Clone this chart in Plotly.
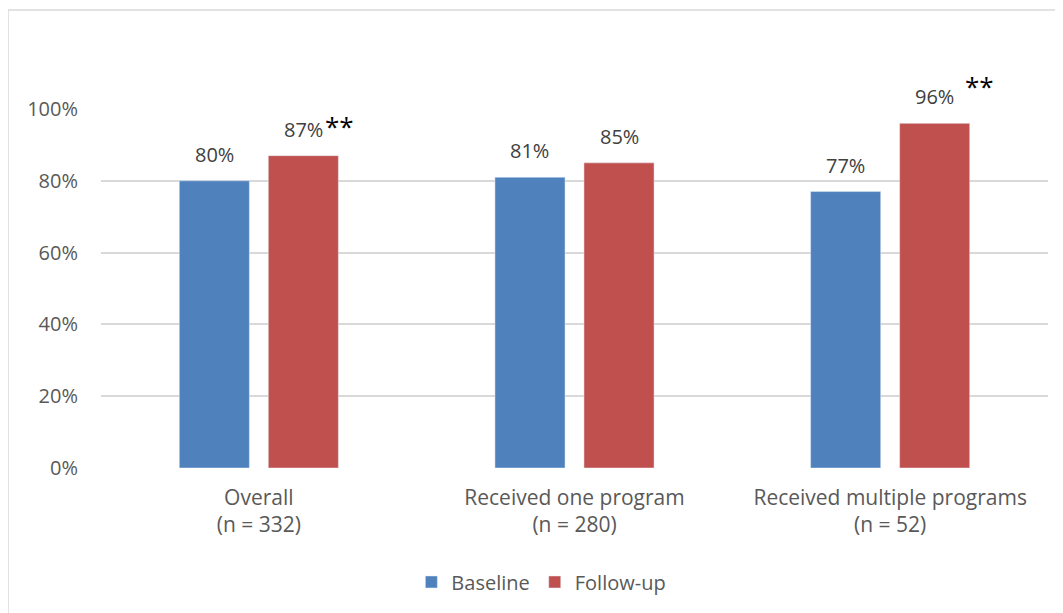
import plotly.graph_objects as go

categories = ["Overall<br>(n = 332)", "Received one program<br>(n = 280)", "Received multiple programs<br>(n = 52)"]
baseline = [0.80, 0.81, 0.77]
followup = [0.87, 0.85, 0.96]
followup_sig = ["**", "", "**"]
y_ticks = [0, 0.2, 0.4, 0.6, 0.8, 1.0]
y_ticktext = ["0%", "20%", "40%", "60%", "80%", "100%"]

BLUE = "#4F81BD"
RED = "#C0504D"
FONT = "Open Sans"
FS = 20
GRID = "#D9D9D9"

# plot area in figure pixels
L, R, T, B = 93, 1040, 101, 460
W, H = 1063, 613
PW, PH = R - L, B - T

xi = list(range(len(categories)))
bar_w = 0.222
half_step = 0.141
sig_xshift = [20, 0, 28]
sig_yshift = [30, 0, 37]

fig = go.Figure()
fig.add_trace(go.Bar(name="Baseline", x=xi, y=baseline, width=bar_w,
                     offset=-half_step - bar_w / 2, marker_color=BLUE))
fig.add_trace(go.Bar(name="Follow-up", x=xi, y=followup, width=bar_w,
                     offset=half_step - bar_w / 2, marker_color=RED))

annotations = []
for i, v in enumerate(baseline):
    annotations.append(dict(x=i - half_step, y=v, xref="x", yref="y", text=f"{v:.0%}",
                            showarrow=False, yanchor="bottom", yshift=11,
                            font=dict(family=FONT, size=FS, color="#404040")))
for i, v in enumerate(followup):
    annotations.append(dict(x=i + half_step, y=v, xref="x", yref="y", text=f"{v:.0%}",
                            showarrow=False, yanchor="bottom", yshift=11,
                            font=dict(family=FONT, size=FS, color="#404040")))
    if followup_sig[i]:
        annotations.append(dict(x=i + half_step, y=v, xref="x", yref="y", text=followup_sig[i],
                                showarrow=False, xanchor="left", yanchor="middle",
                                xshift=sig_xshift[i], yshift=sig_yshift[i],
                                font=dict(family=FONT, size=26, color="#000000")))

bx = (0 - L) / PW
by = (B - 2) / PH
fig.update_layout(
    width=W, height=H,
    margin=dict(l=L, r=W - R, t=T, b=H - B),
    paper_bgcolor="white", plot_bgcolor="white",
    barmode="overlay",
    showlegend=True,
    legend=dict(orientation="h", x=0.465, xanchor="center", y=-0.3175, yanchor="middle",
                font=dict(family=FONT, size=20, color="#595959"), itemwidth=30,
                traceorder="normal"),
    annotations=annotations,
    font=dict(family=FONT, size=FS, color="#595959"),
    shapes=[
        dict(type="line", xref="paper", yref="paper", x0=bx, x1=1.2, y0=by, y1=by,
             line=dict(color=GRID, width=1.5)),
        dict(type="line", xref="paper", yref="paper", x0=bx, x1=bx, y0=by, y1=-0.5,
             line=dict(color=GRID, width=1.5)),
    ],
)
fig.update_xaxes(range=[-0.5, 2.5], tickmode="array", tickvals=xi, ticktext=categories,
                 showgrid=False, zeroline=False, showline=False, ticks="",
                 ticklabelstandoff=15,
                 tickfont=dict(family=FONT, size=21, color="#595959"))
fig.update_yaxes(range=[0, 1], tickmode="array", tickvals=y_ticks, ticktext=y_ticktext,
                 showgrid=True, gridcolor=GRID, gridwidth=1.5, zeroline=False,
                 showline=False, ticks="", ticklabelstandoff=22,
                 tickfont=dict(family=FONT, size=FS, color="#595959"))

fig.write_html("out.html")
